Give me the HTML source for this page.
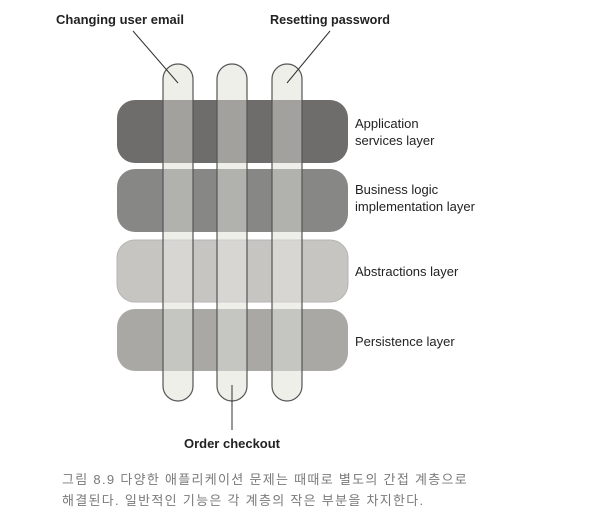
<!DOCTYPE html>
<html><head><meta charset="utf-8"><style>
body{margin:0;background:#fff;width:592px;height:518px;overflow:hidden}
svg{position:absolute;left:0;top:0}
.cap{position:absolute;left:62px;font:13px "Liberation Sans","Noto Sans CJK KR",sans-serif;color:#7a7a7a;letter-spacing:1.3px;white-space:nowrap}
</style></head><body>
<svg width="592" height="518">
<g>
<rect x="163" y="64" width="30" height="337" rx="15" fill="#eeeeea"/>
<rect x="217" y="64" width="30" height="337" rx="15" fill="#eeeeea"/>
<rect x="272" y="64" width="30" height="337" rx="15" fill="#eeeeea"/>
</g>
<rect x="117" y="100" width="231" height="63" rx="18" fill="#6e6d6b"/>
<rect x="117" y="169" width="231" height="63" rx="18" fill="#878785"/>
<rect x="117" y="240" width="231" height="62" rx="18" fill="#c6c5c2" stroke="#b5b4b1"/>
<rect x="117" y="309" width="231" height="62" rx="18" fill="#a9a8a5"/>
<g fill="#efefeb" fill-opacity="0.4" stroke="#555" stroke-width="1.2">
<rect x="163" y="64" width="30" height="337" rx="15"/>
<rect x="217" y="64" width="30" height="337" rx="15"/>
<rect x="272" y="64" width="30" height="337" rx="15"/>
</g>
<g stroke="#333" stroke-width="1">
<line x1="133" y1="31" x2="178" y2="83"/>
<line x1="330" y1="31" x2="287" y2="83"/>
<line x1="232" y1="385" x2="232" y2="430"/>
</g>
<g font-family="Liberation Sans, sans-serif" font-weight="bold" font-size="13" fill="#222" text-anchor="middle">
<text x="120" y="24" textLength="128" lengthAdjust="spacingAndGlyphs">Changing user email</text>
<text x="330" y="24" textLength="120" lengthAdjust="spacingAndGlyphs">Resetting password</text>
<text x="232" y="448" textLength="96" lengthAdjust="spacingAndGlyphs">Order checkout</text>
</g>
<g font-family="Liberation Sans, sans-serif" font-size="13" fill="#222">
<text x="355" y="128">Application</text>
<text x="355" y="145">services layer</text>
<text x="355" y="194">Business logic</text>
<text x="355" y="211">implementation layer</text>
<text x="355" y="276">Abstractions layer</text>
<text x="355" y="346">Persistence layer</text>
</g>
</svg>
<div class="cap" style="top:469px">그림 8.9 다양한 애플리케이션 문제는 때때로 별도의 간접 계층으로</div>
<div class="cap" style="top:490px">해결된다. 일반적인 기능은 각 계층의 작은 부분을 차지한다.</div>
</body></html>
